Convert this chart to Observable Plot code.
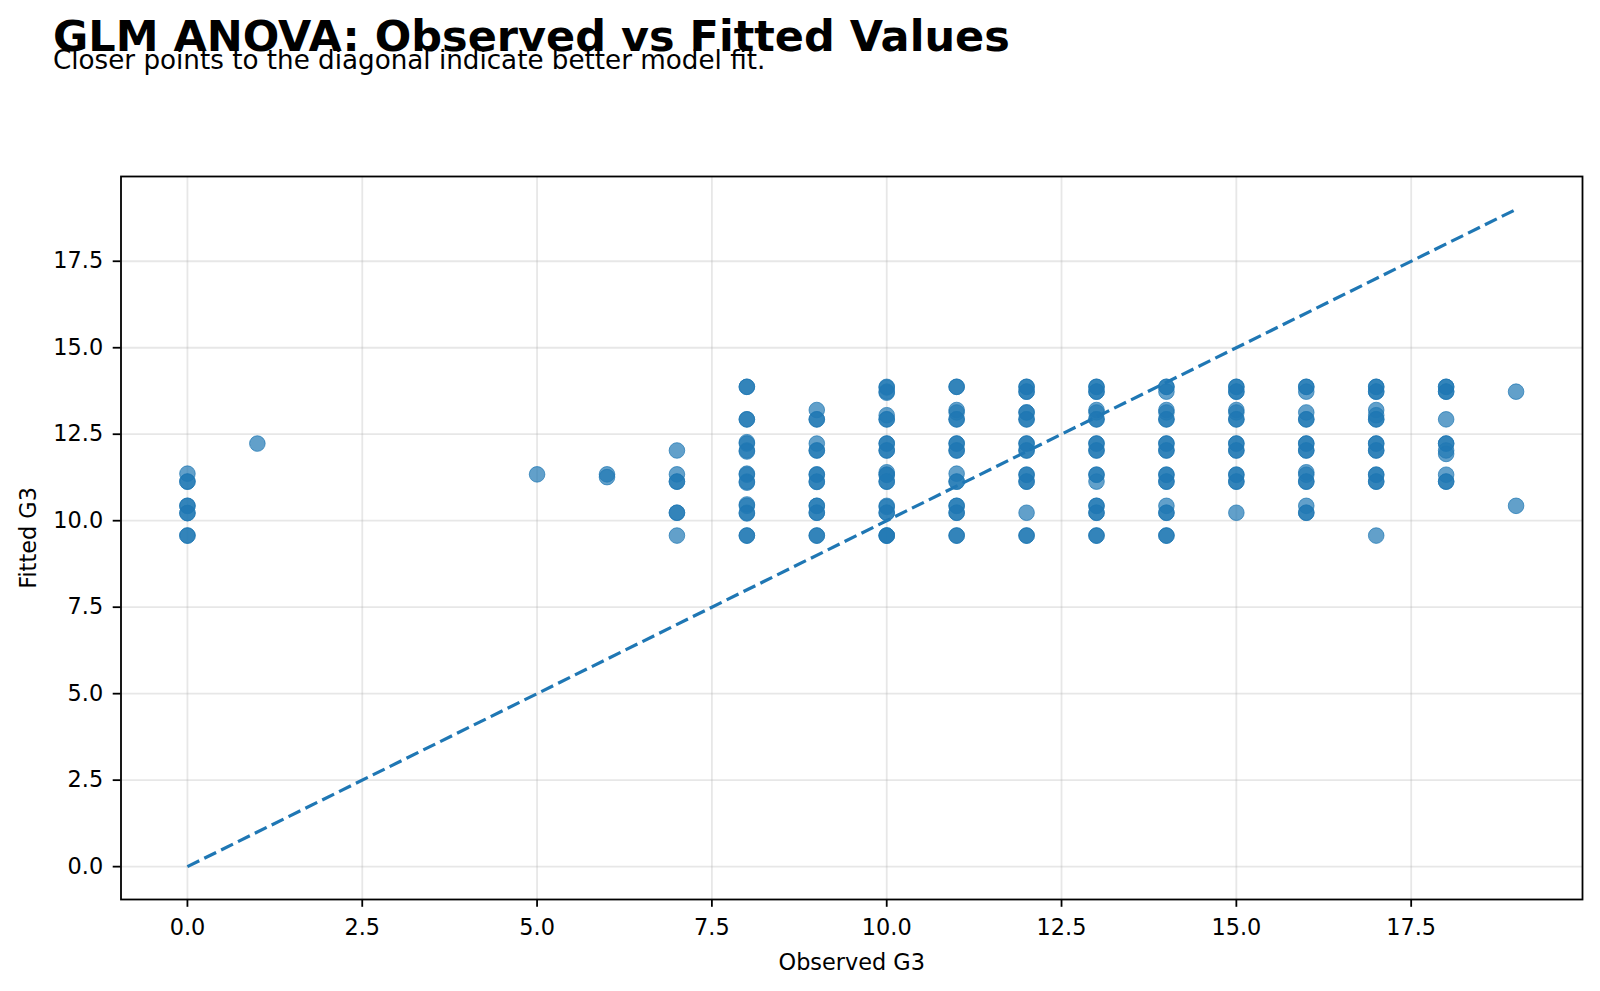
<!DOCTYPE html>
<html>
<head>
<meta charset="utf-8">
<script src="https://cdn.jsdelivr.net/npm/d3@7"></script>
<script src="https://cdn.jsdelivr.net/npm/@observablehq/plot@0.6"></script>
<style>
  html, body { margin: 0; padding: 0; background: #fff; }
  #wrap { position: relative; width: 1600px; height: 991px; }
  #titles { position: absolute; left: 0; top: 0; pointer-events: none; }
  #chart { position: absolute; left: 0; top: 0; }
</style>
</head>
<body>
<div id="wrap">
  <div id="chart"></div>
  <svg id="titles" width="1600" height="100"></svg>
</div>
<script>
// Chart text
const title = "GLM ANOVA: Observed vs Fitted Values";
const subtitle = "Closer points to the diagonal indicate better model fit.";
const xLabel = "Observed G3";
const yLabel = "Fitted G3";
const tickValues = [0, 2.5, 5, 7.5, 10, 12.5, 15, 17.5];

// Observed final grade (G3) and the model's fitted value, one entry per student
const observedG3 = [
  0, 0, 0, 0, 0, 0, 0, 0, 0,
  1,
  5,
  6, 6,
  7, 7, 7, 7, 7, 7, 7,
  8, 8, 8, 8, 8, 8, 8, 8, 8, 8, 8, 8, 8, 8, 8, 8, 8, 8,
  9, 9, 9, 9, 9, 9, 9, 9, 9, 9, 9, 9, 9, 9, 9, 9,
  10, 10, 10, 10, 10, 10, 10, 10, 10, 10, 10, 10, 10, 10, 10, 10, 10, 10, 10, 10, 10, 10, 10,
  11, 11, 11, 11, 11, 11, 11, 11, 11, 11, 11, 11, 11, 11, 11, 11, 11, 11, 11,
  12, 12, 12, 12, 12, 12, 12, 12, 12, 12, 12, 12, 12, 12, 12, 12, 12, 12, 12,
  13, 13, 13, 13, 13, 13, 13, 13, 13, 13, 13, 13, 13, 13, 13, 13, 13, 13, 13, 13, 13,
  14, 14, 14, 14, 14, 14, 14, 14, 14, 14, 14, 14, 14, 14, 14, 14, 14, 14, 14, 14,
  15, 15, 15, 15, 15, 15, 15, 15, 15, 15, 15, 15, 15, 15, 15, 15, 15,
  16, 16, 16, 16, 16, 16, 16, 16, 16, 16, 16, 16, 16, 16, 16, 16, 16,
  17, 17, 17, 17, 17, 17, 17, 17, 17, 17, 17, 17, 17, 17, 17, 17, 17,
  18, 18, 18, 18, 18, 18, 18, 18, 18, 18, 18, 18,
  19, 19
];
const fittedG3 = [
  11.36, 11.13, 11.13, 10.43, 10.43, 10.22, 10.22, 9.57, 9.57,
  12.23,
  11.34,
  11.34, 11.26,
  12.03, 11.34, 11.13, 11.13, 10.23, 10.23, 9.57,
  13.87, 13.87, 12.93, 12.93, 12.27, 12.23, 12.03, 12.00, 11.36, 11.33, 11.13, 11.10, 10.47, 10.43, 10.23, 10.21, 9.57, 9.57,
  13.20, 12.93, 12.93, 12.23, 12.03, 12.03, 11.34, 11.33, 11.13, 11.12, 10.43, 10.43, 10.23, 10.23, 9.57, 9.57,
  13.87, 13.85, 13.73, 13.70, 13.05, 12.93, 12.93, 12.23, 12.23, 12.03, 12.03, 11.40, 11.33, 11.33, 11.13, 11.13, 10.43, 10.40, 10.23, 10.23, 9.57, 9.57, 9.57,
  13.87, 13.87, 13.20, 13.13, 12.93, 12.93, 12.23, 12.23, 12.03, 12.03, 11.36, 11.13, 11.13, 10.43, 10.43, 10.23, 10.23, 9.57, 9.57,
  13.87, 13.87, 13.73, 13.73, 13.13, 13.13, 12.93, 12.93, 12.23, 12.23, 12.03, 12.03, 11.33, 11.33, 11.13, 11.13, 10.23, 9.57, 9.57,
  13.87, 13.87, 13.73, 13.73, 13.20, 13.13, 12.93, 12.93, 12.23, 12.23, 12.03, 12.03, 11.33, 11.33, 11.13, 10.43, 10.43, 10.23, 10.23, 9.57, 9.57,
  13.87, 13.87, 13.73, 13.20, 13.13, 12.93, 12.93, 12.23, 12.23, 12.03, 12.03, 11.33, 11.33, 11.13, 11.13, 10.43, 10.23, 10.23, 9.57, 9.57,
  13.87, 13.87, 13.73, 13.73, 13.20, 13.13, 12.93, 12.93, 12.23, 12.23, 12.03, 12.03, 11.33, 11.33, 11.13, 11.13, 10.23,
  13.87, 13.87, 13.73, 13.13, 12.93, 12.93, 12.23, 12.23, 12.03, 12.03, 11.40, 11.33, 11.13, 11.13, 10.43, 10.23, 10.23,
  13.87, 13.87, 13.73, 13.73, 13.20, 13.05, 12.93, 12.93, 12.23, 12.23, 12.03, 12.03, 11.33, 11.33, 11.13, 11.13, 9.57,
  13.87, 13.87, 13.73, 13.73, 12.93, 12.23, 12.23, 12.03, 11.93, 11.33, 11.13, 11.13,
  13.73, 10.43
];

// Perfect-fit reference: fitted equals observed over the observed range
const diagonalEnds = [0, 19];

const points = observedG3.map((o, i) => ({observed: o, fitted: fittedG3[i]}));
const diagonal = diagonalEnds.map(v => ({observed: v, fitted: v}));

const blue = "#1f77b4";
const font = "DejaVu Sans, Liberation Sans, sans-serif";

const chart = Plot.plot({
  width: 1600,
  height: 991,
  marginLeft: 120.5,
  marginRight: 18,
  marginTop: 176,
  marginBottom: 92,
  style: {fontFamily: font, fontSize: "22.4px", color: "#000", background: "#fff", overflow: "visible"},
  x: {domain: [-0.95, 19.95], ticks: tickValues, tickFormat: d3.format(".1f")},
  y: {domain: [-0.95, 19.95], ticks: tickValues, tickFormat: d3.format(".1f")},
  marks: [
    Plot.gridX(tickValues, {stroke: "#b0b0b0", strokeOpacity: 0.3, strokeWidth: 1.8}),
    Plot.gridY(tickValues, {stroke: "#b0b0b0", strokeOpacity: 0.3, strokeWidth: 1.8}),
    Plot.dot(points, {
      x: "observed", y: "fitted", r: 7.8,
      fill: blue, fillOpacity: 0.7,
      stroke: blue, strokeOpacity: 0.7, strokeWidth: 1
    }),
    Plot.line(diagonal, {
      x: "observed", y: "fitted",
      stroke: blue, strokeWidth: 3.2, strokeDasharray: "13.2,5.6", strokeLinecap: "butt"
    }),
    Plot.axisX(tickValues, {
      tickSize: 7.8, tickPadding: 12, tickFormat: d3.format(".1f"),
      label: xLabel, labelAnchor: "center", labelArrow: "none", labelOffset: 70,
      stroke: "#000", strokeWidth: 1.8
    }),
    Plot.axisY(tickValues, {
      tickSize: 7.8, tickPadding: 10, tickFormat: d3.format(".1f"),
      label: yLabel, labelAnchor: "center", labelArrow: "none", labelOffset: 100.6,
      stroke: "#000", strokeWidth: 1.8
    }),
    Plot.frame({stroke: "#000", strokeWidth: 1.8})
  ]
});
document.getElementById("chart").appendChild(chart);

// Title and subtitle above the plot area
const t = d3.select("#titles");
t.append("text")
  .attr("x", 53).attr("y", 51)
  .attr("font-family", font).attr("font-weight", "bold").attr("font-size", 43)
  .attr("fill", "#000")
  .text(title);
t.append("text")
  .attr("x", 53).attr("y", 68.5)
  .attr("font-family", font).attr("font-size", 26.2)
  .attr("fill", "#000")
  .text(subtitle);
</script>
</body>
</html>
